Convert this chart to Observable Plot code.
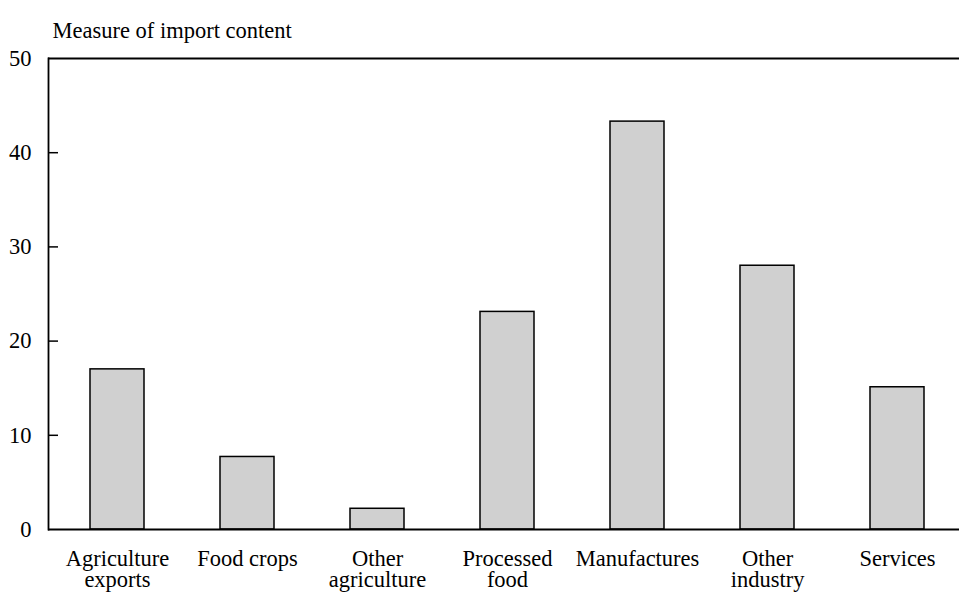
<!DOCTYPE html>
<html>
<head>
<meta charset="utf-8">
<script src="https://cdn.jsdelivr.net/npm/d3@7"></script>
<script src="https://cdn.jsdelivr.net/npm/@observablehq/plot@0.6"></script>
<style>
  html, body { margin: 0; padding: 0; background: #fff; }
  #chart svg { display: block; }
</style>
</head>
<body>
<div id="chart"></div>
<script>
const categories = ["Agriculture exports", "Food crops", "Other agriculture", "Processed food", "Manufactures", "Other industry", "Services"];
const tickLabels = ["Agriculture\nexports", "Food crops", "Other\nagriculture", "Processed\nfood", "Manufactures", "Other\nindustry", "Services"];
const values = [17.0, 7.7, 2.2, 23.1, 43.3, 28.0, 15.1];
const yTicks = [0, 10, 20, 30, 40, 50];
const title = "Measure of import content";

const data = categories.map((c, i) => ({category: c, value: values[i]}));
const labelOf = new Map(categories.map((c, i) => [c, tickLabels[i]]));

const W = 959, H = 592, mL = 48, mR = 0, mT = 58, mB = 63;
const font = "'Liberation Serif', 'Times New Roman', serif";

const chart = Plot.plot({
  width: W,
  height: H,
  marginLeft: mL,
  marginRight: mR,
  marginTop: mT,
  marginBottom: mB,
  style: {fontFamily: font, fontSize: "22.5px", color: "#000", background: "#fff"},
  x: {domain: categories, range: [51.5, 963.6], paddingInner: 0.582, paddingOuter: 0.291, label: null},
  y: {domain: [0, 50], label: null},
  marks: [
    Plot.barY(data, {x: "category", y: "value", fill: "#d0d0d0", stroke: "#000", strokeWidth: 1.5}),
    Plot.ruleY(yTicks.filter(d => d > 0 && d < 50), {stroke: "#000", strokeWidth: 1.5, insetRight: W - mL - mR - 10}),
    Plot.ruleY([0, 50], {stroke: "#000", strokeWidth: 1.8}),
    Plot.frame({anchor: "left", stroke: "#000", strokeWidth: 1.8}),
    Plot.axisY({ticks: yTicks, tickSize: 0, tickPadding: 17, tickFormat: d => String(d), fontSize: 22.5}),
    Plot.axisX({tickSize: 0, tickPadding: 22, tickFormat: d => labelOf.get(d), lineHeight: 0.92, fontSize: 22.5}),
    Plot.text([title], {text: d => d, frameAnchor: "top-left", textAnchor: "start", dx: 4, dy: -36, fontSize: 22.5})
  ]
});
document.getElementById("chart").appendChild(chart);
</script>
</body>
</html>
